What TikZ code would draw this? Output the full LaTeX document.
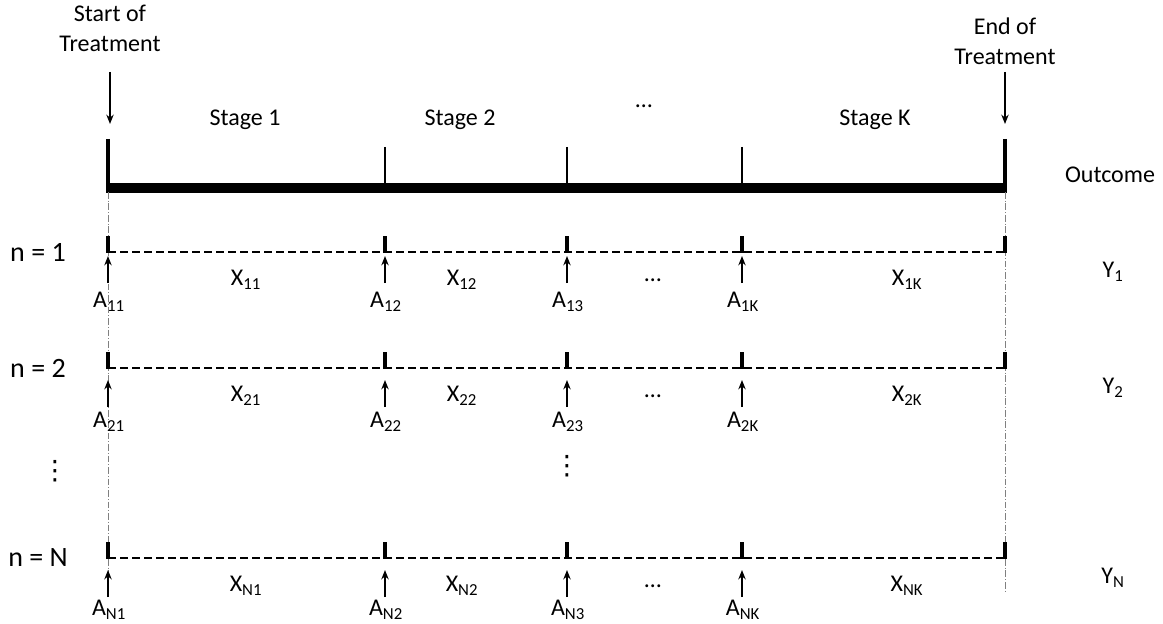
\documentclass[tikz,border=0pt]{standalone}
\usepackage{fontspec}
\setmainfont{Carlito}
\usetikzlibrary{arrows.meta}
\begin{document}
\begin{tikzpicture}[x=0.75pt,y=-0.75pt,
  lbl/.style={font=\fontsize{18}{22.5}\selectfont, inner sep=0pt, align=center},
  nlbl/.style={font=\fontsize{21}{24}\selectfont, inner sep=0pt},
  arr/.style={-{Stealth[length=7pt,width=5.5pt]}, line width=1.4pt},
  axisline/.style={line width=6.75pt},
  bigtick/.style={line width=3.6pt},
  midtick/.style={line width=2.2pt},
  rowline/.style={line width=1.1pt, dash pattern=on 6pt off 3pt},
  rowtick/.style={line width=2.4pt},
  guide/.style={line width=0.6pt, gray, dash pattern=on 5pt off 1.5pt on 0.6pt off 1.5pt}]
\useasboundingbox (0,0) rectangle (1163,624);

% header labels
\node[lbl] (start) at (110,28) {Start of\\Treatment};
\node[lbl] (end) at (1005,41) {End of\\Treatment};
\coordinate (sa1) at (110,72); \coordinate (sa2) at (110,124);
\coordinate (ea1) at (1005,72); \coordinate (ea2) at (1005,124);
\draw[arr] (sa1) -- (sa2);
\draw[arr] (ea1) -- (ea2);

\node[lbl] (st1) at (245,120) {Stage 1};
\node[lbl] (st2) at (460,120) {Stage 2};
\node[lbl] (stdots) at (644,106) {…};
\node[lbl] (stK) at (875,120) {Stage K};
\node[lbl] (outcome) at (1110,175) {Outcome};

% main axis
\coordinate (h0) at (106,188); \coordinate (h4) at (1007,188);
\draw[axisline] (h0) -- (h4);
\coordinate (t0a) at (108,139); \coordinate (t0b) at (108,192);
\coordinate (t4a) at (1005,139); \coordinate (t4b) at (1005,192);
\draw[bigtick] (t0a) -- (t0b);
\draw[bigtick] (t4a) -- (t4b);
\foreach \xx/\nm in {385/1,567/2,742/3}{
  \coordinate (m\nm a) at (\xx,147); \coordinate (m\nm b) at (\xx,185);
  \draw[midtick] (m\nm a) -- (m\nm b);
}

% guide lines
\coordinate (g0a) at (108,192); \coordinate (g0b) at (108,592);
\coordinate (g4a) at (1005,192); \coordinate (g4b) at (1005,592);
\draw[guide] (g0a) -- (g0b);
\draw[guide] (g4a) -- (g4b);

% rows
\foreach \yy/\r/\at/\ab/\al in {252/1/4/31/50, 368/2/12/39/54, 558/N/12/39/52}{
  \node[nlbl] (n\r) at (38,\yy) {n = \r};
  \coordinate (d\r a) at (108,\yy); \coordinate (d\r b) at (1005,\yy);
  \draw[rowline] (d\r a) -- (d\r b);
  \foreach \xx/\k in {108/1,385/2,567/3,742/K,1005/E}{
    \coordinate (r\r\k a) at (\xx,\yy-16); \coordinate (r\r\k b) at (\xx,\yy+1);
    \draw[rowtick] (r\r\k a) -- (r\r\k b);
  }
  \foreach \xx/\k in {108/1,385/2,567/3,742/K}{
    \coordinate (p\r\k a) at (\xx,\yy+\ab); \coordinate (p\r\k b) at (\xx,\yy+\at);
    \draw[arr] (p\r\k a) -- (p\r\k b);
    \node[lbl] (A\r\k) at (\xx+1,\yy+\al) {A\textsubscript{\r\k}};
  }
  \node[lbl] (X\r1) at (246,\yy+28) {X\textsubscript{\r1}};
  \node[lbl] (X\r2) at (462,\yy+28) {X\textsubscript{\r2}};
  \node[lbl] (Xd\r) at (653,\yy+28) {…};
  \node[lbl] (X\r K) at (907,\yy+28) {X\textsubscript{\r K}};
  \node[lbl] (Y\r) at (1113,\yy+20) {Y\textsubscript{\r}};
}

% vertical ellipses
\node[lbl] (vd1) at (55,471) {\fontspec{DejaVu Sans}\fontsize{20}{20}\selectfont ⋮};
\node[lbl] (vd2) at (567,466) {\fontspec{DejaVu Sans}\fontsize{20}{20}\selectfont ⋮};
\end{tikzpicture}
\end{document}
